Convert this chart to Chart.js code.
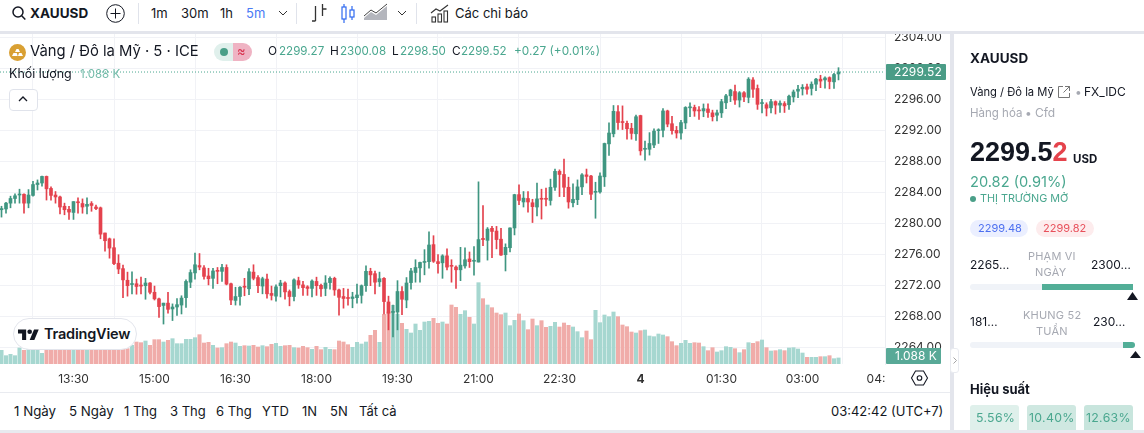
<!DOCTYPE html>
<html lang="vi"><head><meta charset="utf-8"><title>XAUUSD</title>
<script src="https://cdn.jsdelivr.net/npm/chart.js@4/dist/chart.umd.min.js"></script>
<style>
html,body{margin:0;padding:0;background:#fff;width:1144px;height:433px;overflow:hidden;font-family:Inter,"Noto Sans",sans-serif;color:#131722}
.a{position:absolute}
.t{position:absolute;white-space:nowrap;line-height:16px;height:16px}
.g{color:#4aa78f}.mu{color:#a6a9b2}
svg{position:absolute;overflow:visible}
</style></head><body>
<canvas id="c" class="a" style="left:0;top:34px;width:950px;height:358px"></canvas>

<!-- frames -->
<div class="a" style="left:0;top:31px;width:1144px;height:3px;background:#e3e5ec"></div>
<div class="a" style="left:950px;top:31px;width:4px;height:402px;background:#e3e5ec"></div>
<div class="a" style="left:0;top:392px;width:950px;height:1px;background:#e9ebf0"></div>
<div class="a" style="left:0;top:430px;width:1144px;height:3px;background:#e8eaef"></div>
<div class="a" style="left:886px;top:365px;width:64px;height:27px;background:#fff"></div>

<!-- toolbar -->
<svg style="left:12px;top:6px" width="15" height="15" fill="none" stroke="#131722" stroke-width="1.5"><circle cx="6" cy="6" r="5"/><path d="M9.700 9.700l3.600 3.800"/></svg>
<span class="t" style="left:30px;top:5px;font-size:13.5px;font-weight:700">XAUUSD</span>
<svg style="left:106px;top:4px" width="19" height="19" fill="none" stroke="#131722" stroke-width="1"><circle cx="9.500" cy="9.500" r="8.800"/><path d="M9.500 4.500v10M4.500 9.500h10"/></svg>
<div class="a" style="left:138px;top:3px;width:1px;height:21px;background:#e0e3eb"></div>
<span class="t" style="left:151px;top:5px;font-size:13px">1m</span>
<span class="t" style="left:181px;top:5px;font-size:13px">30m</span>
<span class="t" style="left:220px;top:5px;font-size:13px">1h</span>
<span class="t" style="left:246px;top:5px;font-size:13px;color:#4a7bf5">5m</span>
<svg style="left:278px;top:10px" width="10" height="7" fill="none" stroke="#333" stroke-width="1"><path d="M1 1l4 4 4-4"/></svg>
<div class="a" style="left:296px;top:3px;width:1px;height:21px;background:#e0e3eb"></div>
<svg style="left:311px;top:3px" width="17" height="21" fill="none" stroke="#333" stroke-width="1.3"><path d="M4.500 3v15M1 18h3.500M11.500 1v12M11.500 6h4"/></svg>
<svg style="left:341px;top:3px" width="15" height="21" fill="none" stroke="#2f6af0" stroke-width="1.2"><rect x="1" y="4" width="4" height="12"/><path d="M3 1v3M3 16v4M11 3v4M11 14v3"/><rect x="9" y="7" width="4" height="7"/></svg>
<svg style="left:364px;top:4px" width="25" height="18"><path d="M0 14l7-6 5 3 11-9v14H0z" fill="#b4b6bd"/><path d="M0 12l7-6 5 3 11-9" fill="none" stroke="#444" stroke-width="1"/></svg>
<svg style="left:397px;top:10px" width="10" height="7" fill="none" stroke="#333" stroke-width="1"><path d="M1 1l4 4 4-4"/></svg>
<div class="a" style="left:416px;top:3px;width:1px;height:21px;background:#e0e3eb"></div>
<svg style="left:431px;top:4px" width="18" height="19" fill="none" stroke="#333" stroke-width="1.1"><path d="M0 9l5-4 4 2 8-6"/><rect x="1" y="13" width="3.500" height="5"/><rect x="7" y="10" width="3.500" height="8"/><rect x="13" y="7" width="3.500" height="11"/></svg>
<span class="t" style="left:455px;top:5px;font-size:13px">Các chỉ báo</span>

<!-- legend -->
<svg style="left:9px;top:44px" width="17" height="17"><circle cx="8.500" cy="8.500" r="8.500" fill="#d9a033"/><path d="M6 8l1.500-3h2L11 8zM3 12l1.500-3h3.200l1 3zM9 12l1-3h2.500l1.500 3z" fill="#fff"/></svg>
<span class="t" style="left:30px;top:43px;font-size:14.8px">Vàng / Đô la Mỹ · 5 · ICE</span>
<div class="a" style="left:214px;top:43px;width:19px;height:18px;background:#e0f0ec;border-radius:9px 0 0 9px"></div>
<div class="a" style="left:233px;top:43px;width:19px;height:18px;background:#efb3c3;border-radius:0 9px 9px 0"></div>
<div class="a" style="left:220px;top:48px;width:8px;height:8px;background:#4a9f88;border-radius:50%"></div>
<span class="t" style="left:237px;top:43px;font-size:13px;color:#d8324e">≈</span>
<span class="t" style="left:268px;top:43px;font-size:11.8px">O</span><span class="t g" style="left:279px;top:43px;font-size:11.6px">2299.27</span>
<span class="t" style="left:330px;top:43px;font-size:11.8px">H</span><span class="t g" style="left:340px;top:43px;font-size:11.6px">2300.08</span>
<span class="t" style="left:392px;top:43px;font-size:11.8px">L</span><span class="t g" style="left:400px;top:43px;font-size:11.6px">2298.50</span>
<span class="t" style="left:452px;top:43px;font-size:11.8px">C</span><span class="t g" style="left:461px;top:43px;font-size:11.6px">2299.52</span>
<span class="t g" style="left:514px;top:43px;font-size:11.8px">+0.27 (+0.01%)</span>
<span class="t" style="left:9px;top:66px;font-size:12.5px">Khối lượng</span>
<span class="t" style="left:80px;top:66px;font-size:11.5px;color:#73bba9">1.088 K</span>
<div class="a" style="left:9px;top:89px;width:27px;height:20px;border:1px solid #e0e3eb;border-radius:4px;background:#fff"></div>
<svg style="left:18px;top:96px" width="10" height="7" fill="none" stroke="#131722" stroke-width="1.3"><path d="M1 5l4-4 4 4"/></svg>

<!-- logo -->
<div class="a" style="left:13px;top:318px;width:122px;height:30px;background:#fff;border:1px solid #e3e5ec;border-radius:16px"></div>
<svg style="left:18px;top:327px" width="21" height="13" viewBox="0 0 36 22" fill="#131722"><path d="M14 22H7V11H0V4h14v18zM28 22h-8l7.500-18h8L28 22z"/><circle cx="20" cy="8" r="4"/></svg>
<span class="t" style="left:44px;top:326px;font-size:14.5px;font-weight:600;letter-spacing:-.2px">TradingView</span>

<!-- price badges -->
<div class="a" style="left:886px;top:64px;width:60px;height:16px;background:#4a9c86;border-radius:1px"></div>
<span class="t" style="left:894px;top:64px;font-size:12px;color:#fff;letter-spacing:.1px">2299.52</span>
<div class="a" style="left:886px;top:348px;width:55px;height:16px;background:#58a997;border-radius:1px"></div>
<span class="t" style="left:895px;top:348px;font-size:12px;color:#fff">1.088 K</span>
<svg style="left:911px;top:370px" width="17" height="16" fill="none" stroke="#131722" stroke-width="1.1"><path d="M4.500 1h8l4 7-4 7h-8l-4-7z"/><circle cx="8.500" cy="8" r="2.300"/></svg>
<div class="a" style="left:950px;top:348px;width:9px;height:25px;background:#fff;border:1px solid #e9ebf0;border-radius:3px;box-sizing:border-box"></div>
<svg style="left:953px;top:357px" width="4" height="7" fill="none" stroke="#999" stroke-width=".9"><path d="M.5 .5l3 3-3 3"/></svg>

<!-- bottom bar -->
<span class="t" style="left:14px;top:403px;font-size:13.3px">1 Ngày</span>
<span class="t" style="left:69px;top:403px;font-size:13.3px">5 Ngày</span>
<span class="t" style="left:124px;top:403px;font-size:13px">1 Thg</span>
<span class="t" style="left:170px;top:403px;font-size:13px">3 Thg</span>
<span class="t" style="left:216px;top:403px;font-size:13px">6 Thg</span>
<span class="t" style="left:262px;top:403px;font-size:13px">YTD</span>
<span class="t" style="left:302px;top:403px;font-size:13px">1N</span>
<span class="t" style="left:330px;top:403px;font-size:13px">5N</span>
<span class="t" style="left:359px;top:403px;font-size:13px">Tất cả</span>
<span class="t" style="left:831px;top:403px;font-size:13px">03:42:42 (UTC+7)</span>

<!-- right panel -->
<span class="t" style="left:970px;top:50px;font-size:13.5px;font-weight:700">XAUUSD</span>
<span class="t" style="left:970px;top:84px;font-size:11.2px">Vàng / Đô la Mỹ</span>
<svg style="left:1058px;top:86px" width="12" height="12" fill="none" stroke="#666" stroke-width=".9"><path d="M5 .5H.5v11h11V7M7 .5h4.500V5M11.500 .5L5.500 6.500"/></svg>
<span class="t mu" style="left:1075px;top:84px;font-size:12px">•</span>
<span class="t" style="left:1084px;top:84px;font-size:12px">FX_IDC</span>
<span class="t mu" style="left:970px;top:105px;font-size:11.5px">Hàng hóa</span>
<span class="t mu" style="left:1025px;top:105px;font-size:12px">•</span>
<span class="t mu" style="left:1035px;top:105px;font-size:12px">Cfd</span>
<span class="t" style="left:970px;top:144px;font-size:27px;font-weight:700;font-family:'Liberation Sans'">2299.5<span style="color:#e5434c">2</span></span>
<span class="t" style="left:1073px;top:151px;font-size:11.5px;font-weight:700">USD</span>
<span class="t g" style="left:970px;top:174px;font-size:14.6px">20.82 (0.91%)</span>
<div class="a" style="left:970px;top:196px;width:6px;height:6px;border-radius:50%;background:#4a9f88"></div>
<span class="t g" style="left:980px;top:191px;font-size:10.8px">THỊ TRƯỜNG MỞ</span>
<div class="a" style="left:970px;top:220px;width:58px;height:17px;border-radius:9px;background:#ebefff"></div>
<span class="t" style="left:978px;top:220px;font-size:11px;color:#4c6ff0">2299.48</span>
<div class="a" style="left:1036px;top:220px;width:58px;height:17px;border-radius:9px;background:#fdeced"></div>
<span class="t" style="left:1043px;top:220px;font-size:11px;color:#e8505b">2299.82</span>
<span class="t" style="left:970px;top:257px;font-size:12px">2265…</span>
<span class="t mu" style="left:1028px;top:248px;font-size:11px;letter-spacing:.2px">PHẠM VI</span>
<span class="t mu" style="left:1035px;top:264px;font-size:11px;letter-spacing:.2px">NGÀY</span>
<span class="t" style="left:1091px;top:257px;font-size:12px">2300…</span>
<div class="a" style="left:970px;top:284px;width:163px;height:6px;border-radius:3px;background:#f0f3f8"></div>
<div class="a" style="left:1042px;top:284px;width:91px;height:6px;background:#52ae97"></div>
<svg style="left:1127px;top:292px" width="11" height="8"><path d="M5.500 0L11 8H0z" fill="#131722"/></svg>
<span class="t" style="left:970px;top:314px;font-size:12px">181…</span>
<span class="t mu" style="left:1023px;top:307px;font-size:11px;letter-spacing:.2px">KHUNG 52</span>
<span class="t mu" style="left:1036px;top:323px;font-size:11px;letter-spacing:.2px">TUẦN</span>
<span class="t" style="left:1093px;top:314px;font-size:12px">230…</span>
<div class="a" style="left:970px;top:342px;width:165px;height:6px;border-radius:3px;background:#f0f3f8"></div>
<div class="a" style="left:1123px;top:342px;width:12px;height:6px;border-radius:0 3px 3px 0;background:#52ae97"></div>
<svg style="left:1130px;top:351px" width="11" height="7"><path d="M5.500 0L11 7H0z" fill="#131722"/></svg>
<span class="t" style="left:970px;top:381px;font-size:13px;font-weight:700">Hiệu suất</span>
<div class="a" style="left:970px;top:405px;width:49px;height:25px;border-radius:3px 3px 0 0;background:#dff0eb"></div>
<div class="a" style="left:1027px;top:405px;width:49px;height:25px;border-radius:3px 3px 0 0;background:#cfe8e1"></div>
<div class="a" style="left:1084px;top:405px;width:49px;height:25px;border-radius:3px 3px 0 0;background:#c8e5dd"></div>
<span class="t g" style="left:976px;top:410px;font-size:12.3px;letter-spacing:.3px">5.56%</span>
<span class="t g" style="left:1029px;top:410px;font-size:12.3px;letter-spacing:.3px">10.40%</span>
<span class="t g" style="left:1086px;top:410px;font-size:12.3px;letter-spacing:.3px">12.63%</span>

<script>
const categories = [
'12:10','12:15','12:20','12:25','12:30','12:35','12:40','12:45','12:50','12:55',
'13:00','13:05','13:10','13:15','13:20','13:25','13:30','13:35','13:40','13:45','13:50','13:55',
'14:00','14:05','14:10','14:15','14:20','14:25','14:30','14:35','14:40','14:45','14:50','14:55',
'15:00','15:05','15:10','15:15','15:20','15:25','15:30','15:35','15:40','15:45','15:50','15:55',
'16:00','16:05','16:10','16:15','16:20','16:25','16:30','16:35','16:40','16:45','16:50','16:55',
'17:00','17:05','17:10','17:15','17:20','17:25','17:30','17:35','17:40','17:45','17:50','17:55',
'18:00','18:05','18:10','18:15','18:20','18:25','18:30','18:35','18:40','18:45','18:50','18:55',
'19:00','19:05','19:10','19:15','19:20','19:25','19:30','19:35','19:40','19:45','19:50','19:55',
'20:00','20:05','20:10','20:15','20:20','20:25','20:30','20:35','20:40','20:45','20:50','20:55',
'21:00','21:05','21:10','21:15','21:20','21:25','21:30','21:35','21:40','21:45','21:50','21:55',
'22:00','22:05','22:10','22:15','22:20','22:25','22:30','22:35','22:40','22:45','22:50','22:55',
'23:00','23:05','23:10','23:15','23:20','23:25','23:30','23:35','23:40','23:45','23:50','23:55',
'00:00','00:05','00:10','00:15','00:20','00:25','00:30','00:35','00:40','00:45','00:50','00:55',
'01:00','01:05','01:10','01:15','01:20','01:25','01:30','01:35','01:40','01:45','01:50','01:55',
'02:00','02:05','02:10','02:15','02:20','02:25','02:30','02:35','02:40','02:45','02:50','02:55',
'03:00','03:05','03:10','03:15','03:20','03:25','03:30','03:35','03:40','03:45','03:50','03:55',
'04:00','04:05','04:10','04:15','04:20','04:25','04:30'];
const timeTicks = ['13:30','15:00','16:30','18:00','19:30','21:00','22:30','00:00','01:30','03:00','04:30'];
const timeTickText = ['13:30','15:00','16:30','18:00','19:30','21:00','22:30','4','01:30','03:00','04:30'];
const priceTicks = [2264,2268,2272,2276,2280,2284,2288,2292,2296,2300,2304];
const opens = [
2281.75,2281.85,2282.6,2283.2,2283.65,2283.75,2282.6,2283.6,2285,2285.2,
2286.05,2284.5,2283.65,2283.4,2282.2,2281.8,2281.4,2282.75,2282.55,2282.2,
2282.55,2282.1,2282,2278.75,2278,2276.85,2274.85,2274.15,2272.65,2272.1,
2272.2,2271.97,2271.95,2272.3,2271.1,2270.25,2269.4,2269.7,2268.95,2269.2,
2269.45,2270.4,2272.4,2273.6,2274.55,2274.25,2273.2,2272.9,2273.85,2273.8,
2274.3,2272.2,2270.05,2270.55,2271.85,2271.55,2273.7,2273,2271.9,2272.8,
2270.95,2270.6,2271.95,2272.3,2271.2,2270.55,2272.6,2272.05,2271.8,2271.6,
2272.5,2272,2271.6,2272.35,2272.9,2271.4,2270.55,2270.35,2270.3,2270.4,
2270.7,2271.95,2273.8,2273.5,2272.45,2272.9,2269.85,2268.5,2268.55,2271.2,
2270.1,2272.35,2273.65,2274.25,2274.95,2275.05,2277.25,2275.05,2274.9,2275.8,
2274.5,2274.35,2274,2274.5,2275.4,2275.1,2275,2278.05,2277.8,2279.35,
2279,2277.95,2275.95,2276.85,2279.4,2283.7,2282.75,2283.2,2282.65,2282.1,
2283.15,2283.15,2282.95,2284.65,2286.7,2286.3,2284.65,2282.65,2283.05,2284.7,
2286.25,2286.1,2284,2284.05,2286,2290.25,2291.55,2294.4,2293.1,2292.9,
2292.25,2291.55,2293.9,2289.55,2289.55,2290.1,2291.95,2292,2294.5,2292.85,
2292,2291.65,2292.95,2294.9,2294.95,2294.6,2294.5,2294.75,2294.25,2293.95,
2294.25,2295.55,2296.45,2297,2295.9,2296.85,2296.25,2298.5,2297.4,2295.45,
2295.3,2294.9,2295.7,2295.25,2295.45,2295.3,2296.3,2297.05,2297.35,2297.6,
2297.4,2297.95,2298.6,2298.5,2298.8,2298.25,2299.27];
const closes = [
2281.9,2282.6,2283.2,2283.55,2283.7,2282.6,2283.65,2285,2285.2,2286.05,
2284.45,2283.6,2283.4,2282.1,2281.75,2281.45,2282.8,2282.65,2282.1,2282.45,
2282.3,2281.9,2278.6,2277.75,2276.8,2274.8,2274.1,2272.7,2271.95,2272.2,
2271.85,2271.9,2272.3,2271.1,2270.25,2269.25,2269.7,2268.9,2269.2,2269.5,
2270.35,2272.5,2273.65,2274.65,2274.35,2273.15,2272.85,2273.85,2273.8,2274.3,
2272.15,2270.1,2270.55,2271.75,2271.75,2273.75,2272.9,2271.95,2272.85,2270.9,
2270.7,2271.8,2272.3,2271.15,2270.55,2272.7,2272.05,2271.7,2271.6,2272.55,
2271.95,2271.55,2272.3,2272.9,2271.4,2270.45,2270.3,2270.3,2270.5,2270.75,
2271.95,2273.8,2273.35,2272.4,2272.85,2269.9,2268.4,2268.6,2271.2,2270.2,
2272.3,2273.85,2274.3,2274.95,2275,2277.2,2275.1,2274.8,2275.8,2274.35,
2274.45,2274,2274.6,2275.3,2275.05,2275.12,2277.9,2277.9,2279.25,2278.95,
2277.9,2275.9,2276.9,2279.4,2283.7,2282.95,2283.25,2282.75,2282.15,2283.15,
2283.1,2283.1,2284.65,2286.7,2286.3,2284.65,2282.75,2283.1,2284.7,2286.25,
2286.05,2283.75,2284.1,2286.1,2290.3,2291.65,2294.45,2293,2293,2292.2,
2291.6,2293.75,2289.35,2289.6,2290.3,2291.9,2292,2294.5,2292.8,2291.95,
2291.65,2293,2294.95,2295,2294.5,2294.5,2294.8,2294.3,2293.75,2294.25,
2295.7,2296.45,2297.2,2295.9,2296.85,2296.3,2298.6,2297.3,2295.35,2295.5,
2294.85,2295.7,2295.25,2295.5,2295.15,2296.4,2296.95,2297.3,2297.55,2297.3,
2297.95,2298.6,2298.35,2298.75,2298.3,2299.2,2299.52];
const highs = [
2282.2,2282.7,2283.5,2283.8,2284.4,2283.8,2284.35,2285.4,2285.6,2286.1,
2286.1,2284.7,2284.1,2283.5,2282.6,2282.2,2282.8,2283.3,2283.15,2283.3,
2282.8,2282.35,2282.1,2278.75,2278.1,2278,2275.95,2274.6,2273.7,2273.75,
2272.8,2273.05,2272.9,2272.35,2271.9,2270.35,2269.7,2271.1,2269.6,2270.3,
2270.65,2272.7,2274,2276.15,2276.1,2274.55,2274.2,2274.2,2274.3,2274.7,
2274.65,2272.3,2271.75,2271.85,2272.9,2274.15,2274.65,2273.25,2273.05,2273.45,
2271.9,2272.05,2272.65,2272.45,2271.4,2272.85,2273.05,2272.5,2271.95,2272.7,
2273.05,2272.15,2273.25,2273.1,2273.05,2271.5,2271.6,2271.5,2271.1,2272.15,
2272.05,2274.5,2274.2,2273.85,2273.7,2273,2270.6,2269.45,2272.6,2271.85,
2273,2274.2,2275.3,2275,2276.6,2278.9,2278.4,2275.95,2275.95,2276.7,
2275.3,2274.5,2276.9,2276.85,2276.3,2277,2285.35,2282.3,2279.45,2279.6,
2279.6,2279.35,2277.35,2279.4,2283.75,2284.95,2284.1,2284.1,2283.1,2285.2,
2284.4,2284.55,2285.7,2287,2286.9,2288.3,2285.95,2285.1,2285.6,2286.4,
2287,2286.2,2285.3,2286.5,2290.35,2292.95,2295.2,2295.2,2295.15,2293.2,
2292.9,2293.95,2293.95,2290.6,2291.7,2292.2,2292.2,2294.8,2294.6,2293.8,
2292.5,2293.3,2295.05,2295.55,2295.25,2295.05,2295.4,2295.4,2294.6,2294.6,
2296,2296.65,2297.3,2297.85,2297,2297,2298.8,2298.8,2297.85,2296,
2295.55,2296,2295.8,2295.8,2295.7,2296.55,2297.2,2297.8,2297.9,2297.95,
2298.25,2298.7,2299.1,2298.9,2298.9,2299.35,2300.08];
const lows = [
2280.8,2281.3,2282,2282.6,2282.6,2281.3,2282,2283.5,2284.3,2284.8,
2283,2283,2282.6,2281.2,2281.1,2280.5,2280.5,2281.3,2281.3,2281.2,
2281.55,2281.75,2278,2276.4,2275.5,2274.65,2273.5,2270.4,2270.6,2270.9,
2270.85,2270.9,2270.2,2270.9,2270.1,2267.85,2267,2268.4,2267.45,2268.1,
2268.3,2269.15,2271.7,2272.8,2274,2272.8,2272.05,2271.6,2272.2,2272.5,
2272.05,2269.5,2269.45,2269.45,2270.65,2270.8,2272.7,2271.05,2270.9,2270.35,
2270.1,2269.95,2270.5,2270.2,2269.35,2270,2271.6,2270.7,2270.7,2270.5,
2270.7,2270.55,2270.65,2271.5,2270.7,2268.15,2269.05,2269.45,2269.1,2269.7,
2269.7,2271.2,2271.95,2270.9,2271.85,2268.3,2266.25,2265.35,2266.25,2268.2,
2269.1,2271.5,2272.4,2272.4,2273.35,2274.2,2274.95,2273.55,2272.9,2274,
2272.4,2271.6,2272.6,2274.2,2274.3,2273.3,2275,2277.1,2275.25,2275.55,
2276.7,2275.85,2273.85,2276.3,2278.5,2282.4,2282.1,2281.45,2280.1,2280.95,
2280.55,2282.25,2282.35,2284.25,2283.45,2283.45,2281.95,2282.1,2282.4,2283.7,
2285.2,2283.05,2280.65,2283.9,2284.75,2288.75,2291.15,2292.1,2292.1,2290.85,
2290.85,2290.7,2288.8,2288.15,2288.8,2289.75,2290.3,2291.15,2292.45,2291.5,
2291,2290.85,2292.2,2293.75,2293.8,2293.4,2293.75,2293.65,2293.2,2293.2,
2293.65,2294.8,2295.7,2295.35,2295,2295.7,2295.55,2296.25,2294.7,2294.25,
2293.85,2294.25,2294.1,2294.3,2294.3,2294.7,2295.65,2296.2,2296.55,2296.65,
2296.55,2297.1,2297.5,2297.45,2297.35,2297.4,2298.5];
const volumes = [
2460,1500,1740,1500,2880,2460,3000,2760,2640,1920,
3000,3120,3300,3000,2880,3120,2760,3000,3240,2880,
3120,3000,3600,3600,3360,3240,3120,3000,2760,3360,
3960,3840,4140,3360,4380,4380,3960,4260,4560,3660,
3660,4440,4440,4740,5280,3780,3900,3360,2880,2940,
3660,3960,3780,3180,3300,3240,3360,3060,3300,3120,
3540,3720,3180,3300,3360,2940,2880,3180,2940,2640,
3180,2580,3000,2640,2580,4140,3960,3480,3000,3900,
3600,3960,5160,6060,3900,8940,9360,10560,8940,7320,
6240,5580,7200,6060,7560,7680,8220,7320,7560,7200,
10620,10200,8940,9600,8400,7200,14640,11760,10620,10140,
9180,8880,9180,6900,7860,9000,7800,6180,8100,6900,
7800,6600,6780,7500,6660,7380,6960,6660,5820,4740,
5940,4380,9660,7440,8820,8520,9360,8520,7020,6720,
5760,5580,6000,6120,5040,4920,5400,5220,4920,4020,
3300,3720,4260,3720,3840,3780,3120,2400,2940,2160,
2400,3120,3000,2760,2040,2580,3840,3720,4020,4320,
2940,2340,2400,2580,2400,2880,2940,2700,1980,1200,
1200,1200,1320,1320,1500,960,1088];

const UP='#3f9681', DOWN='#e4424d', VUP='#a6d7d0', VDOWN='#f0aca9';
const isUp = closes.map((c,i)=>c>=opens[i]);
const idx = closes.map((c,i)=>i);
const lastClose = closes[closes.length-1];

new Chart(document.getElementById('c'),{
  type:'bar',
  data:{datasets:[
    {type:'line',order:0,data:[{x:-1,y:lastClose},{x:categories.length,y:lastClose}],borderColor:'#4aa78f',borderWidth:1,borderDash:[1,2],pointRadius:0,yAxisID:'y'},
    {label:'Thân',order:1,data:idx.map(i=>({x:i,y:[opens[i],closes[i]]})),backgroundColor:idx.map(i=>isUp[i]?UP:DOWN),barThickness:3,yAxisID:'y',grouped:false,minBarLength:1},
    {label:'Bóng',order:2,data:idx.map(i=>({x:i,y:[lows[i],highs[i]]})),backgroundColor:idx.map(i=>isUp[i]?UP:DOWN),barThickness:1,yAxisID:'y',grouped:false},
    {label:'Khối lượng',order:3,data:idx.map(i=>({x:i,y:volumes[i]})),backgroundColor:idx.map(i=>isUp[i]?VUP:VDOWN),barThickness:3.4,yAxisID:'v',grouped:false}
  ]},
  options:{
    responsive:false,animation:false,
    devicePixelRatio:1,
    layout:{padding:0,autoPadding:false},
    plugins:{legend:{display:false},tooltip:{enabled:false}},
    scales:{
      x:{type:'linear',bounds:'data',min:-1/3,max:196+1/3,offset:false,
        grid:{color:'#f1f2f6',drawTicks:false},border:{display:false},
        afterBuildTicks:s=>{s.ticks=timeTicks.map(t=>({value:categories.indexOf(t)}));},
        afterFit:s=>{s.height=28;s.paddingLeft=0;s.paddingRight=0;},
        ticks:{autoSkip:false,maxRotation:0,padding:8,color:'#333',
          font:c=>({family:'Inter',size:12,weight:c.tick&&categories[c.tick.value]==='00:00'?'700':'400'}),
          callback:v=>timeTickText[timeTicks.indexOf(categories[v])]}
      },
      y:{type:'linear',position:'right',bounds:'data',min:2261.845,max:2304.426,
        grid:{color:'#f1f2f6',drawTicks:false},border:{display:true,color:'#eceef2'},
        afterBuildTicks:s=>{s.ticks=priceTicks.map(v=>({value:v}));},
        afterFit:s=>{s.width=65;s.paddingTop=0;s.paddingBottom=0;},
        ticks:{autoSkip:false,padding:9,color:'#333',font:{family:'Inter',size:12},
          callback:v=>v.toFixed(2)}
      },
      v:{type:'linear',display:false,bounds:'data',min:0,max:59400,position:'left'}
    }
  }
});
</script>
</body></html>
